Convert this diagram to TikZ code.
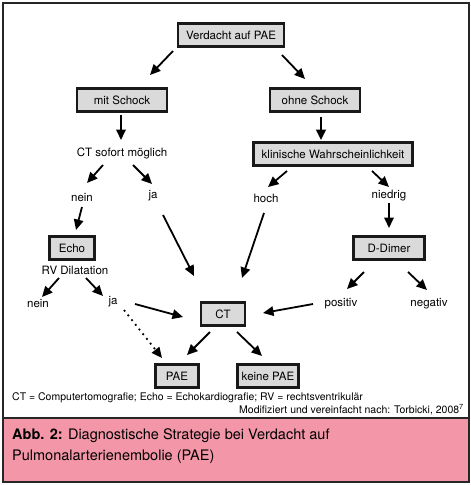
\documentclass[tikz,border=0pt]{standalone}
\usepackage{fontspec}
\setmainfont{TeX Gyre Heros}
\usetikzlibrary{arrows.meta}

\definecolor{capPink}{RGB}{242,150,168}
\definecolor{boxGray}{RGB}{218,218,218}

\tikzset{
    Box/.style={draw=black!90,line width=2.2pt,fill=boxGray,minimum height=23pt,
        inner xsep=0pt,font=\fontsize{11.5}{13}\selectfont},
    Label/.style={inner sep=1pt,font=\fontsize{11.5}{13}\selectfont},
    Note/.style={inner sep=0pt,font=\fontsize{10.5}{12}\selectfont},
    Arrow/.style={line width=1.8pt,-{Triangle[length=10.5pt,width=9.5pt]}},
    Dots/.style={Arrow,dash pattern=on 1.8pt off 4.2pt},
}

\begin{document}
\begin{tikzpicture}[x=1pt,y=-1pt]
    \useasboundingbox (0,0) rectangle (471,485);
    \fill[capPink] (3,418) rectangle (469,482);
    \draw[line width=1.2pt,black!85] (3,3) rectangle (469,482);
    \draw[line width=1.2pt,black!85] (3,418) -- (469,418);

    \node[Box,minimum width=106pt] (verdacht) at (231,35) {Verdacht auf PAE};
    \node[Box,minimum width=90pt] (mit) at (122,100) {mit Schock};
    \node[Box,minimum width=90pt] (ohne) at (315,100) {ohne Schock};
    \node[Box,minimum width=159pt] (klin) at (333,154) {klinische Wahrscheinlichkeit};
    \node[Label] (sofort) at (122,153) {CT sofort möglich};
    \node[Label] (nein1) at (82,198) {nein};
    \node[Label] (ja1) at (153,196) {ja};
    \node[Label] (hoch) at (266,198) {hoch};
    \node[Label] (niedrig) at (389,196) {niedrig};
    \node[Box,minimum width=45pt] (echo) at (72,248) {Echo};
    \node[Box,minimum width=71pt] (ddimer) at (389,248) {D-Dimer};
    \node[Label] (rv) at (75,270) {RV Dilatation};
    \node[Label] (nein2) at (38,304) {nein};
    \node[Label] (ja2) at (113,302) {ja};
    \node[Label] (positiv) at (341,304) {positiv};
    \node[Label] (negativ) at (429,304) {negativ};
    \node[Box,minimum width=44pt] (ct) at (223,314) {CT};
    \node[Box,minimum width=43pt] (pae) at (177,376) {PAE};
    \node[Box,minimum width=61pt] (keine) at (268,376) {keine PAE};

    \node[Note,anchor=west] (legend) at (12,398)
        {CT = Computertomografie; Echo = Echokardiografie; RV = rechtsventrikulär};
    \node[Note,anchor=east] (source) at (464,410)
        {Modifiziert und vereinfacht nach: Torbicki, 2008\textsuperscript{7}};
    \node[anchor=north west,align=left,inner sep=0pt,
        font=\fontsize{14.5}{21}\selectfont] (caption) at (12,428)
        {\textbf{Abb. 2:} Diagnostische Strategie bei Verdacht auf\\Pulmonalarterienembolie (PAE)};

    \draw[Arrow] ([shift={(-58,16)}]verdacht.center) -- ([shift={(28,-25)}]mit.center);
    \draw[Arrow] ([shift={(51,20)}]verdacht.center) -- ([shift={(-10,-21)}]ohne.center);
    \draw[Arrow] ([shift={(-1,15)}]mit.center) -- ([shift={(-1,-13)}]sofort.center);
    \draw[Arrow,line width=2.4pt] ([shift={(6,17)}]ohne.center) -- ([shift={(-12,-14)}]klin.center);
    \draw[Arrow] ([shift={(-19,12)}]sofort.center) -- ([shift={(5,-15)}]nein1.center);
    \draw[Arrow] ([shift={(11,12)}]sofort.center) -- ([shift={(-1,-12)}]ja1.center);
    \draw[Arrow] ([shift={(-46,17)}]klin.center) -- ([shift={(2,-11)}]hoch.center);
    \draw[Arrow] ([shift={(39,17)}]klin.center) -- ([shift={(0,-9)}]niedrig.center);
    \draw[Arrow] ([shift={(0,9)}]nein1.center) -- ([shift={(4,-18)}]echo.center);
    \draw[Arrow] ([shift={(0,7)}]niedrig.center) -- ([shift={(0,-20)}]ddimer.center);
    \draw[Arrow] ([shift={(10,19)}]ja1.center) -- ([shift={(-29,-38)}]ct.center);
    \draw[Arrow] ([shift={(-2,15)}]hoch.center) -- ([shift={(19,-36)}]ct.center);
    \draw[Arrow] ([shift={(-16,8)}]rv.center) -- ([shift={(4,-7)}]nein2.center);
    \draw[Arrow] ([shift={(11,8)}]rv.center) -- ([shift={(-10,-6)}]ja2.center);
    \draw[Arrow] ([shift={(-25,24)}]ddimer.center) -- ([shift={(6,-15)}]positiv.center);
    \draw[Arrow] ([shift={(19,24)}]ddimer.center) -- ([shift={(-2,-14)}]negativ.center);
    \draw[Arrow] ([shift={(22,2)}]ja2.center) -- ([shift={(-40,3)}]ct.center);
    \draw[Arrow] ([shift={(-28,0)}]positiv.center) -- ([shift={(40,-1)}]ct.center);
    \draw[Dots] ([shift={(11,8)}]ja2.center) -- ([shift={(-15,-18)}]pae.center);
    \draw[Arrow] ([shift={(-13,18)}]ct.center) -- ([shift={(10,-21)}]pae.center);
    \draw[Arrow] ([shift={(14,18)}]ct.center) -- ([shift={(-6,-20)}]keine.center);
\end{tikzpicture}
\end{document}
